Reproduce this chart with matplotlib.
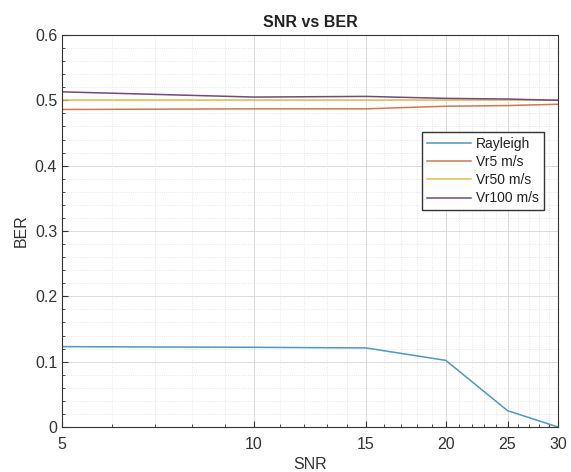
import numpy as np
import matplotlib
matplotlib.use("Agg")
import matplotlib.pyplot as plt
from matplotlib.ticker import FixedLocator, NullFormatter, FixedFormatter

plt.rcParams['font.family'] = ['Liberation Sans', 'DejaVu Sans']

snr = [5, 10, 15, 20, 25, 30]
rayleigh = [0.123, 0.122, 0.121, 0.102, 0.025, 0.0]
vr5 = [0.486, 0.487, 0.487, 0.491, 0.492, 0.494]
vr50 = [0.500, 0.500, 0.500, 0.500, 0.500, 0.500]
vr100 = [0.513, 0.505, 0.506, 0.503, 0.502, 0.500]

labels = ['Rayleigh', 'Vr5 m/s', 'Vr50 m/s', 'Vr100 m/s']
colors = ['#4f97c4', '#d0784f', '#e6bd4a', '#6e4a80']

fig = plt.figure(figsize=(5.71, 4.72), dpi=100)
ax = fig.add_axes([62/571, 45/472, 496/571, 392/472])

for ys, lab, c in zip([rayleigh, vr5, vr50, vr100], labels, colors):
    ax.plot(snr, ys, color=c, lw=1.1, label=lab)

ax.set_xscale('log')
ax.set_xlim(5, 30)
ax.set_ylim(0, 0.6)
ax.xaxis.set_major_locator(FixedLocator(snr))
ax.xaxis.set_major_formatter(FixedFormatter([str(s) for s in snr]))
ax.xaxis.set_minor_locator(FixedLocator([v for v in range(6, 30) if v not in snr]))
ax.xaxis.set_minor_formatter(NullFormatter())
ax.set_yticks(np.arange(0, 0.61, 0.1))
ax.set_yticklabels(['0', '0.1', '0.2', '0.3', '0.4', '0.5', '0.6'])
ax.yaxis.set_minor_locator(FixedLocator(np.arange(0, 0.6, 0.02)))

ax.grid(True, which='major', color='#dcdcdc', lw=0.7)
ax.grid(True, which='minor', color='#e2e2e2', lw=0.6, ls=':')
ax.tick_params(which='both', direction='in', labelsize=11.5, color='#333333',
               labelcolor='#333333')
ax.tick_params(which='minor', length=2)
ax.tick_params(which='major', length=4)
ax.tick_params(axis='x', pad=7)
for s in ax.spines.values():
    s.set_color('#333333')
    s.set_linewidth(0.8)

ax.set_xlabel('SNR', fontsize=11.5, color='#333333', labelpad=4)
ax.set_ylabel('BER', fontsize=11.5, color='#333333', labelpad=4)
ax.set_title('SNR vs BER', fontsize=11.5, fontweight='bold', pad=6, color='#222222')

leg = ax.legend(loc='upper right', bbox_to_anchor=(0.985, 0.77), fontsize=10,
                fancybox=False, edgecolor='#333333', framealpha=1,
                handlelength=3.2, borderpad=0.35, labelspacing=0.3,
                handletextpad=0.35)
for t in leg.get_texts():
    t.set_color('#222222')

fig.savefig('out.png', dpi=100)
